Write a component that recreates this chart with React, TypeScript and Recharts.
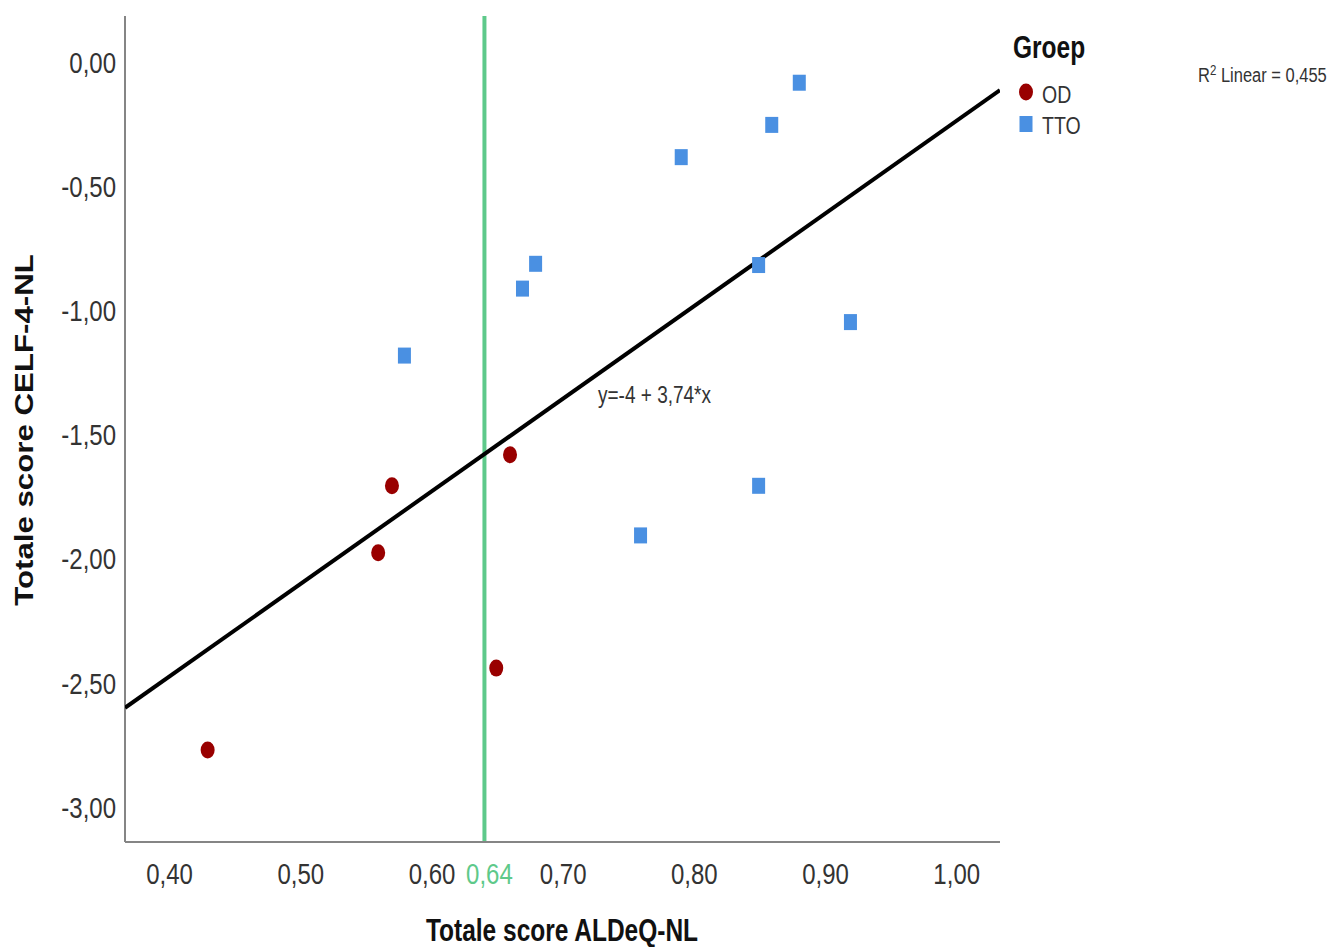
import { ScatterChart, Scatter, XAxis, YAxis, ReferenceLine } from 'recharts';

const FONT = "'Liberation Sans', Arial, sans-serif";
// the reference is stretched vertically, so text gets a vertical scale
const SY = 1.25;

const COLORS = {
  od: '#990000',
  tto: '#4a90e2',
  fit: '#000000',
  cut: '#5ec98a',
  axis: '#858585',
  text: '#333333',
};

// Groep OD
const odX = [0.429, 0.559, 0.5695, 0.649, 0.6595];
const odY = [-2.77, -1.975, -1.705, -2.44, -1.58];

// Groep TTO
const ttoX = [0.579, 0.669, 0.679, 0.759, 0.79, 0.849, 0.849, 0.859, 0.88, 0.919];
const ttoY = [-1.18, -0.91, -0.81, -1.905, -0.38, -0.815, -1.705, -0.25, -0.08, -1.045];

// fit line y = -4 + 3,74*x, ends at the axis limits
const fitX = [0.366, 1.033];
const fitY = [-2.6, -0.11];

const xTicks = [0.4, 0.5, 0.6, 0.64, 0.7, 0.8, 0.9, 1.0];
const yTicks = [0, -0.5, -1, -1.5, -2, -2.5, -3];
const cutOff = 0.64;

const odData = odX.map((x, i) => ({ x, y: odY[i] }));
const ttoData = ttoX.map((x, i) => ({ x, y: ttoY[i] }));
const fitData = fitX.map((x, i) => ({ x, y: fitY[i] }));

const fmt = (v: number) => v.toFixed(2).replace('.', ',');

const Dot = (p: any) => <ellipse cx={p.cx} cy={p.cy} rx={7} ry={8.5} fill={COLORS.od} />;
const Square = (p: any) => <rect x={p.cx - 6.5} y={p.cy - 8} width={13} height={16} fill={COLORS.tto} />;

// text at (x, y) with the vertical stretch applied
const T = ({ x, y, rotate, children, ...rest }: any) => (
  <g transform={`translate(${x} ${y}) scale(1 ${SY})${rotate ? ` rotate(${rotate})` : ''}`}>
    <text x={0} y={0} fontFamily={FONT} {...rest}>
      {children}
    </text>
  </g>
);

const XTick = (p: any) => {
  const v = p.payload.value;
  const isCut = Math.abs(v - cutOff) < 1e-6;
  return (
    <T
      x={p.x + (isCut ? 5 : 0)}
      y={p.y + 31}
      dy="0.35em"
      textAnchor="middle"
      fontSize={24}
      fill={isCut ? COLORS.cut : COLORS.text}
    >
      {fmt(v)}
    </T>
  );
};

const YTick = (p: any) => (
  <T x={p.x} y={p.y} dy="0.35em" textAnchor="end" fontSize={24} fill={COLORS.text}>
    {fmt(p.payload.value)}
  </T>
);

export default function App() {
  return (
    <div style={{ position: 'absolute', left: 0, top: 0, width: 1334, height: 947, background: '#fff', overflow: 'hidden' }}>
      <ScatterChart width={1334} height={947} margin={{ top: 16, right: 334, bottom: 0, left: 0 }}>
        <XAxis
          type="number"
          dataKey="x"
          domain={[0.366, 1.033]}
          ticks={xTicks}
          allowDataOverflow
          height={105}
          tickSize={0}
          tickMargin={0}
          tick={<XTick />}
          axisLine={{ stroke: COLORS.axis, strokeWidth: 2 }}
          tickLine={false}
        />
        <YAxis
          type="number"
          dataKey="y"
          domain={[-3.141, 0.189]}
          ticks={yTicks}
          allowDataOverflow
          width={125}
          tickSize={0}
          tickMargin={9}
          tick={<YTick />}
          axisLine={{ stroke: COLORS.axis, strokeWidth: 2 }}
          tickLine={false}
        />
        <ReferenceLine x={cutOff} stroke={COLORS.cut} strokeWidth={4} />
        <Scatter
          data={fitData}
          line={{ stroke: COLORS.fit, strokeWidth: 4 }}
          shape={() => null}
          isAnimationActive={false}
        />
        <Scatter data={odData} shape={<Dot />} isAnimationActive={false} />
        <Scatter data={ttoData} shape={<Square />} isAnimationActive={false} />
      </ScatterChart>
      <svg width={1334} height={947} style={{ position: 'absolute', left: 0, top: 0, pointerEvents: 'none' }}>
        <T x={562} y={941} textAnchor="middle" fontSize={24.5} fontWeight="bold" fill="#111">
          Totale score ALDeQ-NL
        </T>
        <T x={33} y={430} rotate={-90} textAnchor="middle" fontSize={25} fontWeight="bold" fill="#111">
          Totale score CELF-4-NL
        </T>
        <T x={598} y={395} dy="0.35em" fontSize={19} fill={COLORS.text}>
          y=-4 + 3,74*x
        </T>
        <T x={1013} y={47} dy="0.35em" fontSize={24.5} fontWeight="bold" fill="#111">
          Groep
        </T>
        <ellipse cx={1026} cy={92} rx={7} ry={8.5} fill={COLORS.od} />
        <T x={1042} y={94} dy="0.35em" fontSize={19.5} fill={COLORS.text}>
          OD
        </T>
        <rect x={1019.5} y={116} width={13} height={16} fill={COLORS.tto} />
        <T x={1042} y={125} dy="0.35em" fontSize={19.5} fill={COLORS.text}>
          TTO
        </T>
        <T x={1198} y={75} dy="0.35em" fontSize={16.5} fill={COLORS.text}>
          R<tspan dy={-6} fontSize={11.5}>2</tspan>
          <tspan dy={6}> Linear = 0,455</tspan>
        </T>
      </svg>
    </div>
  );
}
